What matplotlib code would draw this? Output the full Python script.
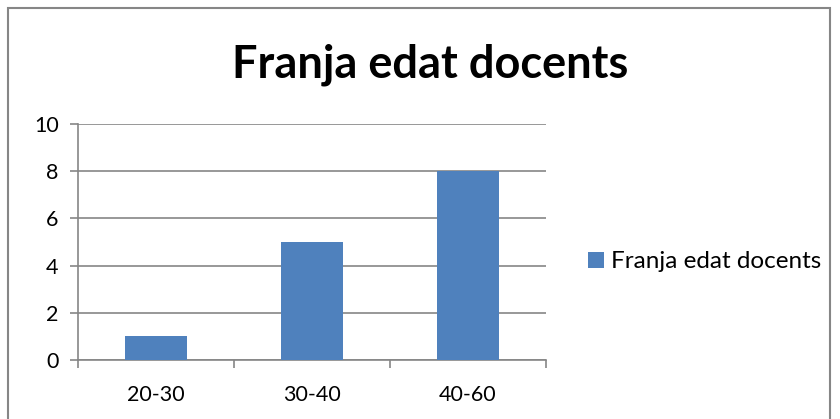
import matplotlib
matplotlib.use("Agg")
import matplotlib.pyplot as plt
from matplotlib.patches import Rectangle

# dades del grafic
categories = ["20-30", "30-40", "40-60"]
valors = [1, 5, 8]
titol = "Franja edat docents"
serie = "Franja edat docents"
yticks = [0, 2, 4, 6, 8, 10]

blau = "#4F81BD"
gris = "#868686"

plt.rcParams['font.family'] = ['Lato', 'DejaVu Sans']

fig = plt.figure(figsize=(8.4, 4.19), dpi=100)
ax = fig.add_axes([78 / 840, 59 / 419, 468 / 840, 236 / 419])

pos = list(range(len(categories)))
ax.bar(pos, valors, width=0.4, color=blau, label=serie, zorder=3)

ax.set_xlim(-0.5, len(categories) - 0.5)
ax.set_ylim(0, 10)
ax.set_yticks(yticks)
ax.set_xticks(pos)
ax.set_xticklabels(categories)
ax.set_xticks([p - 0.5 for p in pos] + [len(categories) - 0.5], minor=True)

ax.grid(axis="y", color=gris, linewidth=1.2, zorder=0)
for s in ["top", "right"]:
    ax.spines[s].set_visible(False)
for s in ["left", "bottom"]:
    ax.spines[s].set_color(gris)
    ax.spines[s].set_linewidth(1.2)

ax.tick_params(axis="y", length=6, width=1.2, color=gris, labelsize=15.5, pad=8)
ax.tick_params(axis="x", which="major", length=0, labelsize=15.5, pad=18)
ax.tick_params(axis="x", which="minor", length=6, width=1.2, color=gris)

fig.text(430 / 840, 1 - 65 / 419, titol, ha="center", va="center",
         fontsize=32.5, fontweight="bold")

fig.legend(loc="center left", bbox_to_anchor=(588 / 840, 1 - 262 / 419),
           frameon=False, fontsize=17.5, handlelength=0.65, handleheight=0.65,
           handletextpad=0.3, borderpad=0, borderaxespad=0)

# vora del grafic
fig.patches.append(Rectangle((8 / 840, -0.05), 822 / 840, 1.03,
                             transform=fig.transFigure, fill=False,
                             edgecolor=gris, linewidth=1.5))

fig.savefig("out.png", dpi=100)
